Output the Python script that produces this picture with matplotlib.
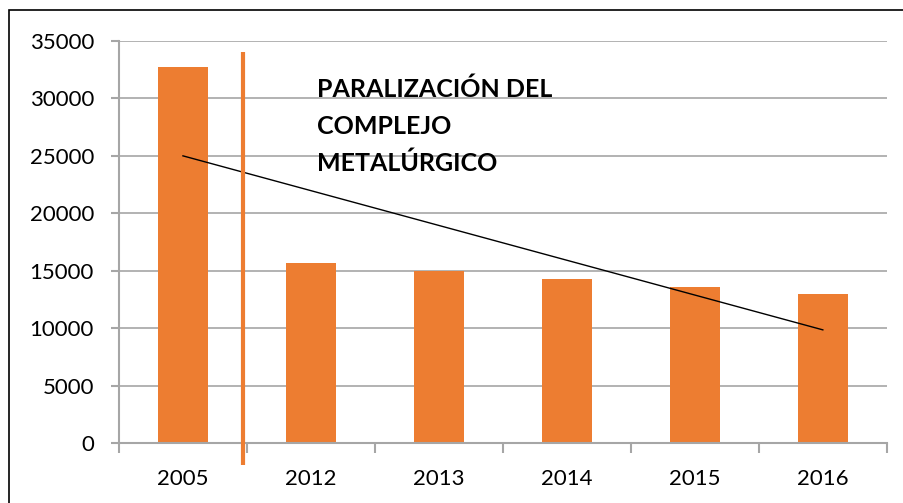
import matplotlib
matplotlib.use('Agg')
import matplotlib.pyplot as plt
from matplotlib.patches import Rectangle

plt.rcParams['font.family'] = ['Lato', 'DejaVu Sans']

# datos
years = ['2005', '2012', '2013', '2014', '2015', '2016']
values = [32750, 15700, 15000, 14300, 13600, 13000]
trend_x = [0, 5]
trend_y = [25000, 9850]
break_x = 0.47
break_y = [-1900, 34050]
note = 'PARALIZACIÓN DEL\nCOMPLEJO\nMETALÚRGICO'

fig = plt.figure(figsize=(9.04, 5.03), dpi=100)
ax = fig.add_axes([0.1316, 0.1193, 0.8494, 0.7992])

x = range(len(years))
ax.bar(x, values, width=0.39, color='#ed7d31', zorder=2)
ax.plot(trend_x, trend_y, color='black', lw=1, zorder=3)
ax.plot([break_x, break_x], break_y, color='#ed7d31', lw=3, zorder=3, clip_on=False,
        solid_capstyle='butt')
ax.text(1.05, 31800, note, fontsize=18, fontweight='bold', va='top', ha='left',
        linespacing=1.7, zorder=4)

ax.set_xlim(-0.5, 5.5)
ax.set_ylim(0, 35000)
ax.set_yticks(range(0, 35001, 5000))
ax.set_xticks(x)
ax.set_xticklabels(years)
ax.set_xticks([i - 0.5 for i in range(7)], minor=True)
ax.tick_params(axis='x', which='major', length=0, pad=19, labelsize=16)
ax.tick_params(axis='x', which='minor', length=7, color='#a6a6a6', width=1.5)
ax.tick_params(axis='y', length=6, color='#a6a6a6', width=1.5, labelsize=16, pad=12)
ax.yaxis.grid(True, color='#a6a6a6', lw=1.2, zorder=0)
for s in ['top', 'right']:
    ax.spines[s].set_visible(False)
ax.spines['left'].set_color('#a6a6a6')
ax.spines['bottom'].set_color('#a6a6a6')
ax.spines['left'].set_linewidth(1.5)
ax.spines['bottom'].set_linewidth(1.5)

# marco
fig.patches.append(Rectangle((9 / 904, -0.01), 1.0, 1 - 10 / 503 + 0.01,
                             transform=fig.transFigure, fill=False,
                             edgecolor='black', lw=1.2))

fig.savefig('out.png', dpi=100)
